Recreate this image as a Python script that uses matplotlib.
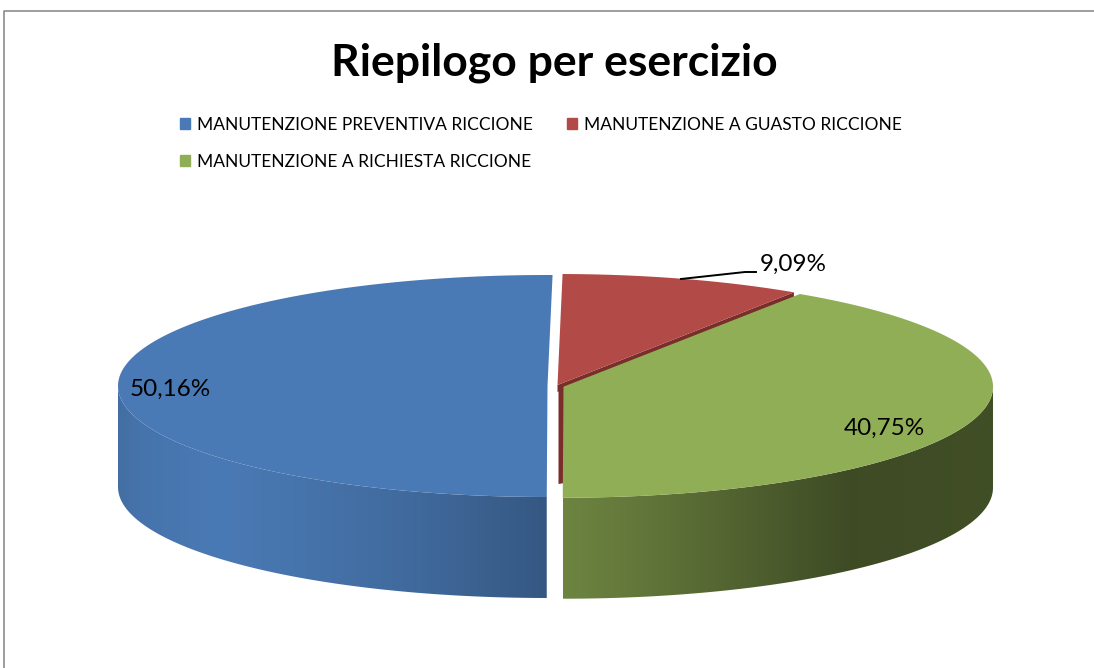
import numpy as np
import matplotlib
matplotlib.use("Agg")
import matplotlib.pyplot as plt
from matplotlib.patches import Patch, Polygon
from matplotlib.colors import to_rgb

title = "Riepilogo per esercizio"
categories = ["MANUTENZIONE PREVENTIVA RICCIONE", "MANUTENZIONE A GUASTO RICCIONE", "MANUTENZIONE A RICHIESTA RICCIONE"]
values = [50.16, 9.09, 40.75]
labels = ["50,16%", "9,09%", "40,75%"]
colors = ["#4a7ab5", "#b24b47", "#90ae55"]

plt.rcParams['font.family'] = ['Lato', 'DejaVu Sans']
W, H = 1094, 668
fig = plt.figure(figsize=(W/100, H/100), dpi=100, facecolor="white")
ax = fig.add_axes([0, 0, 1, 1])
ax.set_xlim(0, W); ax.set_ylim(H, 0); ax.axis("off")

# chart frame
ax.plot([3.5, 3.5, W], [H, 10.5, 10.5], color="#8c8c8c", lw=1.2)

RX, RY, DEPTH = 429.5, 111, 101
CENTERS = [(547.5, 386), (557.5, 385), (563.5, 386.7)]
START = 180.1  # clockwise from 12 o'clock, blue slice starts at the bottom
spans = np.array(values) / 100 * 360
starts = START + np.concatenate([[0], np.cumsum(spans)[:-1]])

def pt(c, a, dy=0):
    r = np.radians(a)
    return c[0] + RX*np.sin(r), c[1] - RY*np.cos(r) + dy

def side(i, xp, fp):
    """Rim of slice i, shaded along x with a gradient clipped to the rim outline."""
    a = np.linspace(starts[i], starts[i] + spans[i], 400)
    a = a[np.cos(np.radians(a)) <= 0.0]
    c = CENTERS[i]
    xs, ys = pt(c, a)
    outline = np.c_[np.r_[xs, xs[::-1]], np.r_[ys, ys[::-1] + DEPTH]]
    x0, x1 = xs.min(), xs.max()
    grid = np.linspace(x0, x1, 512)
    f = np.interp(grid, xp, fp)
    img = np.clip(np.outer(f, to_rgb(colors[i])), 0, 1)[None, :, :]
    y0, y1 = ys.min(), ys.max() + DEPTH
    im = ax.imshow(img, extent=(x0, x1, y1, y0), aspect="auto", zorder=2, interpolation="bilinear")
    poly = Polygon(outline, closed=True, transform=ax.transData, facecolor="none", edgecolor="none")
    ax.add_patch(poly)
    im.set_clip_path(poly)

def top(i):
    a = np.linspace(starts[i], starts[i]+spans[i], 300)
    c = CENTERS[i]
    xs, ys = pt(c, a)
    ax.fill(np.r_[c[0], xs], np.r_[c[1], ys], color=colors[i], lw=0, zorder=4)

# red slice: dark cut faces seen between the exploded slices
rc = CENTERS[1]
re = pt(rc, starts[1]+spans[1])
ax.fill([rc[0], re[0], re[0], rc[0]], [rc[1], re[1], re[1]+7, rc[1]+7], color="#7a2e2b", lw=0, zorder=3)
ax.fill([rc[0]+1, rc[0]+7, rc[0]+7, rc[0]+1], [rc[1], rc[1], rc[1]+DEPTH-3, rc[1]+DEPTH-2], color="#7a2e2b", lw=0, zorder=1)

# blue rim: lighter at the left, darker to the right
side(0, [117, 135, 220, 400, 547], [0.9, 0.94, 1.0, 0.88, 0.72])
# green rim: darkens strongly to the right
side(2, [564, 640, 750, 850, 992], [0.76, 0.68, 0.55, 0.43, 0.45])
for i in (0, 1, 2):
    top(i)
ax.set_xlim(0, W); ax.set_ylim(H, 0)

# data labels
lab_fs = 17.5
ax.text(170, 389, labels[0], ha="center", va="center", fontsize=lab_fs, color="black", zorder=6)
ax.text(793, 264.5, labels[1], ha="center", va="center", fontsize=lab_fs, color="black", zorder=6)
ax.text(884.5, 428, labels[2], ha="center", va="center", fontsize=lab_fs, color="black", zorder=6)
ax.plot([681, 745, 756], [279, 272, 272], color="black", lw=1.4, zorder=6)

ax.text(554.5, 63, title, ha="center", va="center", fontsize=32, fontweight="bold", color="black")

order = [0, 2, 1]
handles = [Patch(color=colors[i], label=categories[i]) for i in order]
leg = ax.legend(handles=handles, ncol=2, frameon=False, fontsize=12.5,
                loc="upper left", bbox_to_anchor=(180/W, 1-117/H),
                handlelength=0.58, handleheight=0.58, handletextpad=0.4,
                columnspacing=1.95, labelspacing=1.2, borderpad=0, borderaxespad=0)
for t in leg.get_texts():
    t.set_color("black")

fig.savefig("out.png", dpi=100)
